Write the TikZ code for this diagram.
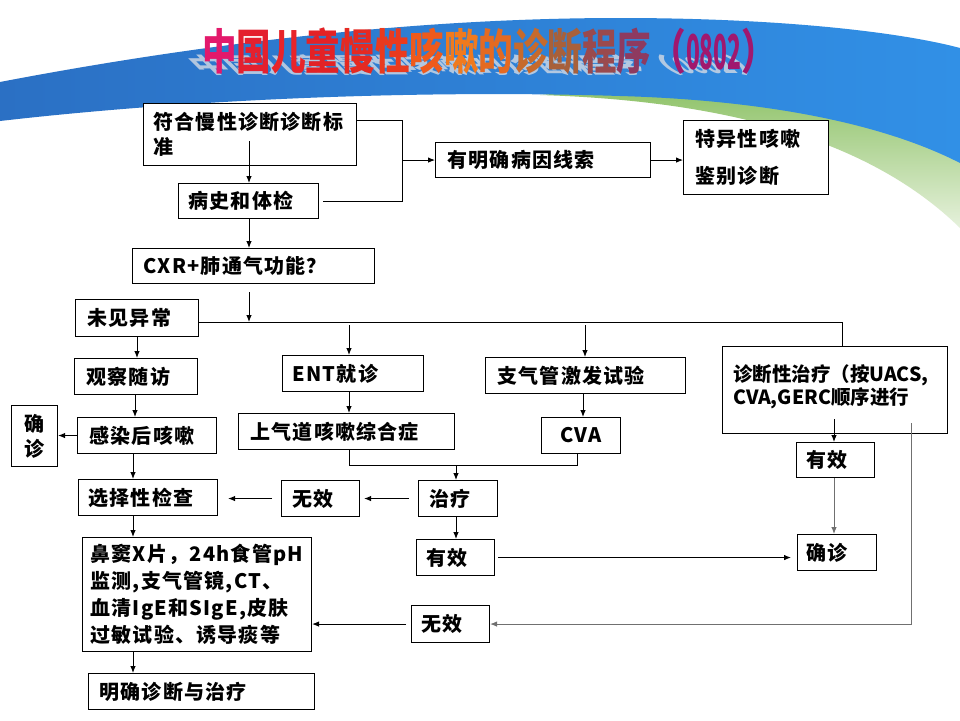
\documentclass[tikz,border=0pt]{standalone}
\usepackage{fontspec}
\usepackage{graphicx}
\newfontfamily\cjk{Noto Sans CJK SC}[LetterSpace=6]
\newfontfamily\cjkt{Noto Sans CJK SC}
\usetikzlibrary{arrows.meta,calc}
\definecolor{bluA}{HTML}{2B70C4}
\definecolor{bluB}{HTML}{3190E6}
\definecolor{grnA}{HTML}{7DB951}
\definecolor{grnB}{HTML}{E6F1DC}
\definecolor{tA}{HTML}{E3196B}
\definecolor{tB}{HTML}{E4202E}
\definecolor{tC}{HTML}{E8242A}
\definecolor{tD}{HTML}{E32226}
\definecolor{tE}{HTML}{E52A22}
\definecolor{tF}{HTML}{EA3A1E}
\definecolor{tG}{HTML}{EE5A1C}
\definecolor{tH}{HTML}{F07A1E}
\definecolor{tI}{HTML}{E46A22}
\definecolor{tJ}{HTML}{C66A2C}
\definecolor{tK}{HTML}{A8603A}
\definecolor{tL}{HTML}{9A4A4E}
\definecolor{tM}{HTML}{8E3A60}
\definecolor{tN}{HTML}{A0186E}
\definecolor{shadowc}{HTML}{D4DAE4}
\definecolor{lgray}{HTML}{707070}
\tikzset{
  bx/.style={draw, line width=1.1pt, fill=white, anchor=north west, inner ysep=0pt,
    align=left, font=\cjk\bfseries\fontsize{20}{25}\selectfont},
  ln/.style={line width=0.9pt},
  arr/.style={line width=0.9pt, -{Latex[length=7pt,width=5.5pt]}},
}
\newcommand\mkbox[7]{\node[bx, inner xsep=#5pt, text width=#6pt, minimum height=#4pt] (#1) at (#2,#3) {#7};}
\begin{document}
\begin{tikzpicture}[x=1pt,y=-1pt]
\useasboundingbox (0,0) rectangle (960,720);
\fill[white] (0,0) rectangle (960,720);
% background swooshes
\shade[top color=grnA, bottom color=grnB] (540,95) .. controls (700,100) and (860,130) .. (960,228) -- (960,60) -- cycle;
\shade[left color=bluA, right color=bluB] (0,82) .. controls (220,40) and (430,18) .. (620,18) .. controls (780,18) and (900,32) .. (960,48) -- (960,163) .. controls (880,122) and (760,100) .. (620,96) .. controls (430,90) and (200,98) .. (0,121) -- cycle;
% title shadow and title
\node[anchor=base west, inner sep=0pt, font=\cjkt\bfseries\fontsize{48}{48}\selectfont, text=shadowc, opacity=0.8, xslant=-1, yscale=0.45, transform shape] (tshadow) at (200,73) {\scalebox{0.72}[1]{中国儿童慢性咳嗽的诊断程序（\scalebox{0.66}[1]{0802}）}};
\node[anchor=base west, inner sep=0pt, font=\cjkt\bfseries\fontsize{48}{48}\selectfont] (title) at (202,69) {\scalebox{0.72}[1]{\color{tA}中\color{tB}国\color{tC}儿\color{tD}童\color{tE}慢\color{tF}性\color{tG}咳\color{tH}嗽\color{tI}的\color{tJ}诊\color{tK}断\color{tL}程\color{tM}序\color{tN}（\scalebox{0.66}[1]{0802}）}};
% boxes
\mkbox{b1}{143}{103}{62}{10}{193}{符合慢性诊断诊断标\\准}
\mkbox{b2}{178}{183}{35}{10}{120}{病史和体检}
\mkbox{b3}{435}{142}{35}{12}{191}{有明确病因线索}
\mkbox{b4}{683}{120}{74}{12}{121}{特异性咳嗽\\[12pt]鉴别诊断}
\mkbox{b5}{132}{248}{35}{11}{220}{CXR+肺通气功能？}
\mkbox{b6}{75}{299}{37}{12}{99}{未见异常}
\mkbox{b7}{74}{358}{36}{12}{99}{观察随访}
\node[bx, align=center, inner xsep=2pt, text width=42pt, minimum height=61pt] (b8) at (11,405) {确\\诊};
\mkbox{b9}{77}{417}{36}{12}{115}{感染后咳嗽}
\mkbox{b10}{78}{479}{36}{10}{119}{选择性检查}
\node[bx, inner xsep=8pt, text width=213pt, minimum height=114pt, font=\cjk\bfseries\fontsize{20}{27}\selectfont] (b11) at (82,537) {鼻窦X片，24h食管pH\\监测,支气管镜,CT、\\血清IgE和SIgE,皮肤\\过敏试验、诱导痰等};
\mkbox{b12}{88}{673}{36}{11}{204}{明确诊断与治疗}
\mkbox{b13}{282}{355}{36}{10}{121}{ENT就诊}
\mkbox{b14}{238}{413}{36}{12}{192}{上气道咳嗽综合症}
\mkbox{b15}{485}{357}{36}{12}{176}{支气管激发试验}
\node[bx, align=center, inner xsep=4pt, text width=71pt, minimum height=36pt] (b16) at (541,417) {CVA};
\node[draw, line width=1.1pt, fill=white, anchor=north west, inner sep=0pt, minimum width=225pt, minimum height=87pt] (b17) at (722,346) {};
\node[anchor=north west, inner sep=0pt, align=left, font=\cjkt\bfseries\fontsize{19.5}{23}\selectfont] (b17t) at (733,364) {诊断性治疗（按UACS,\\CVA,GERC顺序进行};
\mkbox{b18}{796}{442}{35}{10}{58}{有效}
\mkbox{b19}{797}{534}{36}{9}{61}{确诊}
\mkbox{b20}{418}{480}{36}{11}{57}{治疗}
\mkbox{b21}{281}{480}{36}{11}{56}{无效}
\mkbox{b22}{416}{539}{36}{10}{58}{有效}
\mkbox{b23}{411}{605}{37}{10}{58}{无效}
% helper coordinates
\coordinate (jx) at (402,0);
\coordinate (y120) at (0,120);
\coordinate (xa) at (249,0);
\coordinate (hA) at (249,322);
\coordinate (hR) at (842,322);
\coordinate (xl1) at (137,0);
\coordinate (xl2) at (135,0);
\coordinate (xl) at (133,0);
\coordinate (xent) at (349,0);
\coordinate (xbr) at (585,0);
\coordinate (xcv) at (583,0);
\coordinate (xu) at (349,0);
\coordinate (xc) at (577,0);
\coordinate (ty) at (0,465);
\coordinate (xt) at (456,0);
\coordinate (xr) at (834,0);
\coordinate (xg) at (911,0);
% connectors
\draw[ln, shorten >=4pt] (b1.east |- y120) -- (jx |- y120) -- (jx |- b2.east) -- (b2.east);
\draw[arr] (jx |- b3.west) -- (b3.west);
\draw[arr] (b3.east) -- (b3.east -| b4.west);
\draw[arr] ($(xa |- b1.south)+(0,-25)$) -- (xa |- b2.north);
\draw[arr] (xa |- b2.south) -- (xa |- b5.north);
\draw[arr] ($(xa |- b5.south)+(0,8)$) -- (hA);
\draw[ln] (b6.east |- hA) -- (hR) -- (hR |- b17.north);
\draw[arr] ($(xent |- hA)+(0,3)$) -- (xent |- b13.north);
\draw[arr] ($(xbr |- hA)+(0,3)$) -- (xbr |- b15.north);
\draw[arr] (xl1 |- b6.south) -- (xl1 |- b7.north);
\draw[arr] (xl2 |- b7.south) -- (xl2 |- b9.north);
\draw[arr] (b9.west) -- (b9.west -| b8.east);
\draw[arr] (xl |- b9.south) -- (xl |- b10.north);
\draw[arr] (xl |- b10.south) -- (xl |- b11.north);
\draw[arr] (xl |- b11.south) -- (xl |- b12.north);
\draw[arr] (xent |- b13.south) -- (xent |- b14.north);
\draw[arr] (xcv |- b15.south) -- (xcv |- b16.north);
\draw[ln] (xu |- b14.south) -- (xu |- ty) -- (xc |- ty) -- (xc |- b16.south);
\draw[arr] (xt |- ty) -- (xt |- b20.north);
\draw[arr, shorten <=9pt, shorten >=4pt] (b20.west) -- (b20.west -| b21.east);
\draw[arr, shorten <=9pt, shorten >=10pt] (b21.west) -- (b21.west -| b10.east);
\draw[arr] (xt |- b20.south) -- (xt |- b22.north);
\draw[arr, shorten <=3pt, shorten >=6pt] (b22.east) -- (b22.east -| b19.west);
\draw[arr] ($(xr |- b17.south)+(0,-15)$) -- (xr |- b18.north);
\draw[arr, lgray] (xr |- b18.south) -- (xr |- b19.north);
\draw[arr, lgray] ($(xg |- b17.south)+(0,-11)$) -- (xg |- b23.east) -- (b23.east);
\draw[arr, shorten <=5pt] (b23.west) -- (b23.west -| b11.east);
\end{tikzpicture}
\end{document}
